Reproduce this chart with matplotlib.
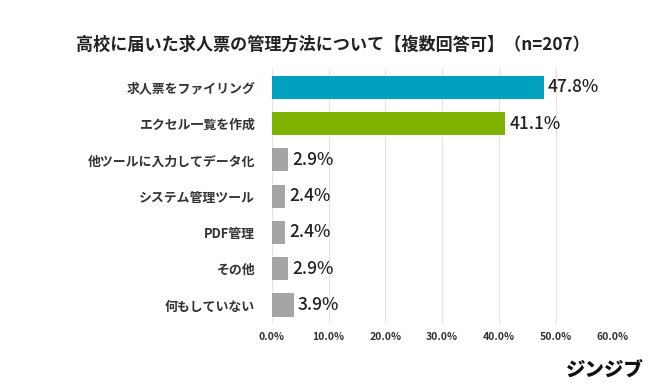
import numpy as np
import matplotlib.pyplot as plt

plt.rcParams['font.family'] = ['Noto Sans CJK JP', 'DejaVu Sans']

categories = ["求人票をファイリング", "エクセル一覧を作成", "他ツールに入力してデータ化",
              "システム管理ツール", "PDF管理", "その他", "何もしていない"]
values = [47.8, 41.1, 2.9, 2.4, 2.4, 2.9, 3.9]
colors = ["#00A0BF", "#7FB200", "#A5A5A5", "#A5A5A5", "#A5A5A5", "#A5A5A5", "#A5A5A5"]
xticks = [0, 10, 20, 30, 40, 50, 60]

fig = plt.figure(figsize=(6.5, 3.88), dpi=100)
ax = fig.add_axes([0.418, 0.167, 0.525, 0.655])

y = np.arange(len(categories))
ax.barh(y, values, height=0.64, color=colors, zorder=3)
for yi, v in zip(y, values):
    ax.text(v + 0.7, yi, f"{v}%", va="center", ha="left", fontsize=12.5,
            fontweight="medium", color="#222222")

ax.set_xlim(0, 60)
ax.set_ylim(len(categories) - 0.5, -0.5)
ax.set_yticks(y)
ax.set_yticklabels(categories, fontsize=9.3, fontweight="bold", color="#333333")
ax.set_xticks(xticks)
ax.set_xticklabels([f"{t:.1f}%" for t in xticks], fontsize=7.5, fontweight="bold",
                   color="#333333")
ax.tick_params(axis="y", length=0, pad=12)
ax.tick_params(axis="x", length=0, pad=6)
ax.grid(axis="x", color="#E3E3E3", linewidth=0.8, zorder=0)
for s in ax.spines.values():
    s.set_visible(False)
ax.axvline(0, color="#D9D9D9", linewidth=0.8, zorder=1)

fig.text(0.512, 0.885, "高校に届いた求人票の管理方法について【複数回答可】（n=207）",
         ha="center", va="center", fontsize=12.3, fontweight="bold", color="#222222")
fig.text(0.99, 0.045, "ジンジブ", ha="right", va="center", fontsize=14,
         fontweight="black", color="#111111")

fig.savefig("out.png", dpi=100)
